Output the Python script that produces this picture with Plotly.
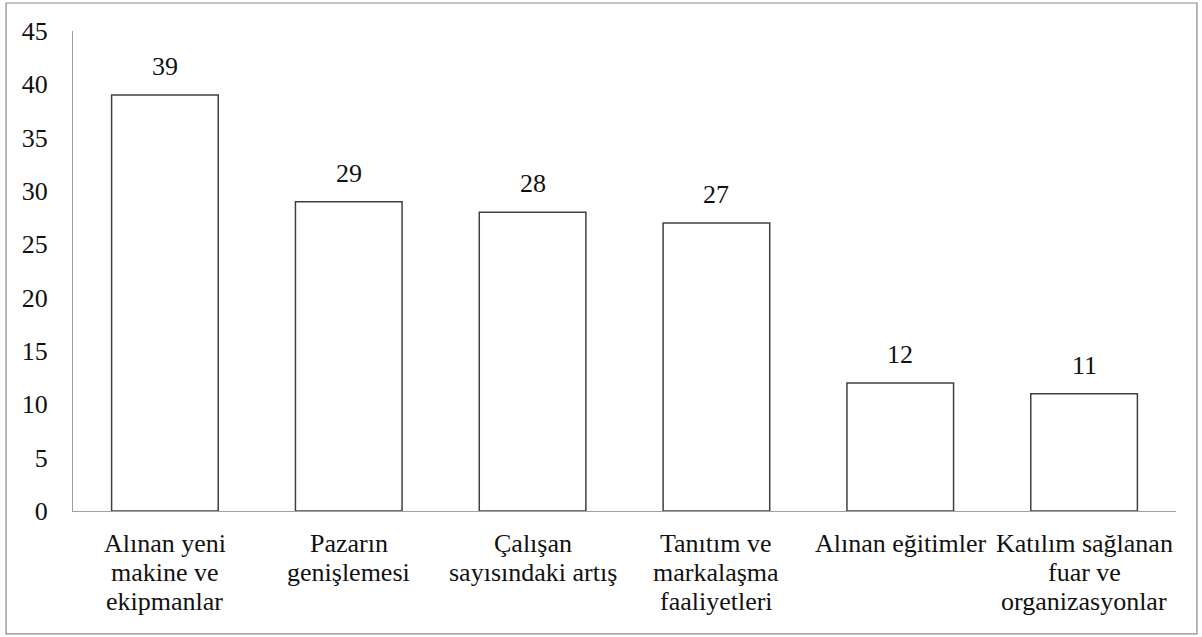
import plotly.graph_objects as go

categories = ["Alınan yeni<br>makine ve<br>ekipmanlar", "Pazarın<br>genişlemesi",
              "Çalışan<br>sayısındaki artış", "Tanıtım ve<br>markalaşma<br>faaliyetleri",
              "Alınan eğitimler", "Katılım sağlanan<br>fuar ve<br>organizasyonlar"]
values = [39, 29, 28, 27, 12, 11]
yticks = [0, 5, 10, 15, 20, 25, 30, 35, 40, 45]

FONT = "Liberation Serif"
FS = 26
TXT = "#111111"

fig = go.Figure(go.Bar(
    x=categories, y=values,
    marker=dict(color="white", line=dict(color="#404040", width=1.5)),
    width=0.58,
))

for c, v in zip(categories, values):
    fig.add_annotation(x=c, y=v, text=str(v), showarrow=False, yanchor="bottom",
                       yshift=12, font=dict(family=FONT, size=FS, color=TXT))

# category labels, one annotation per line for tighter line spacing
for c in categories:
    for i, line in enumerate(c.split("<br>")):
        fig.add_annotation(x=c, y=0, text=line, showarrow=False, yanchor="top",
                           yshift=-(17 + i * 29.2), borderpad=0,
                           font=dict(family=FONT, size=FS, color=TXT))

fig.add_shape(type="rect", xref="paper", yref="paper",
              x0=-0.0607, x1=1.019, y0=-0.256, y1=1.0583,
              line=dict(color="#8a8a8a", width=1.2), fillcolor="rgba(0,0,0,0)", layer="below")

fig.update_layout(
    width=1202, height=637,
    margin=dict(l=73, r=26, t=31, b=126),
    paper_bgcolor="white", plot_bgcolor="white",
    showlegend=False,
    font=dict(family=FONT, size=FS, color=TXT),
    xaxis=dict(showline=True, linecolor="#a0a0a0", linewidth=1.2, showgrid=False,
               ticks="", showticklabels=False),
    yaxis=dict(range=[0, 45], tickvals=yticks, showline=True, linecolor="#a0a0a0",
               linewidth=1.2, showgrid=False, zeroline=False, ticks="",
               ticklabelstandoff=19, tickfont=dict(family=FONT, size=FS, color=TXT)),
)

fig.write_html("out.html", config={"displayModeBar": False},
               post_script="document.body.style.margin='0';document.body.style.padding='0';")
